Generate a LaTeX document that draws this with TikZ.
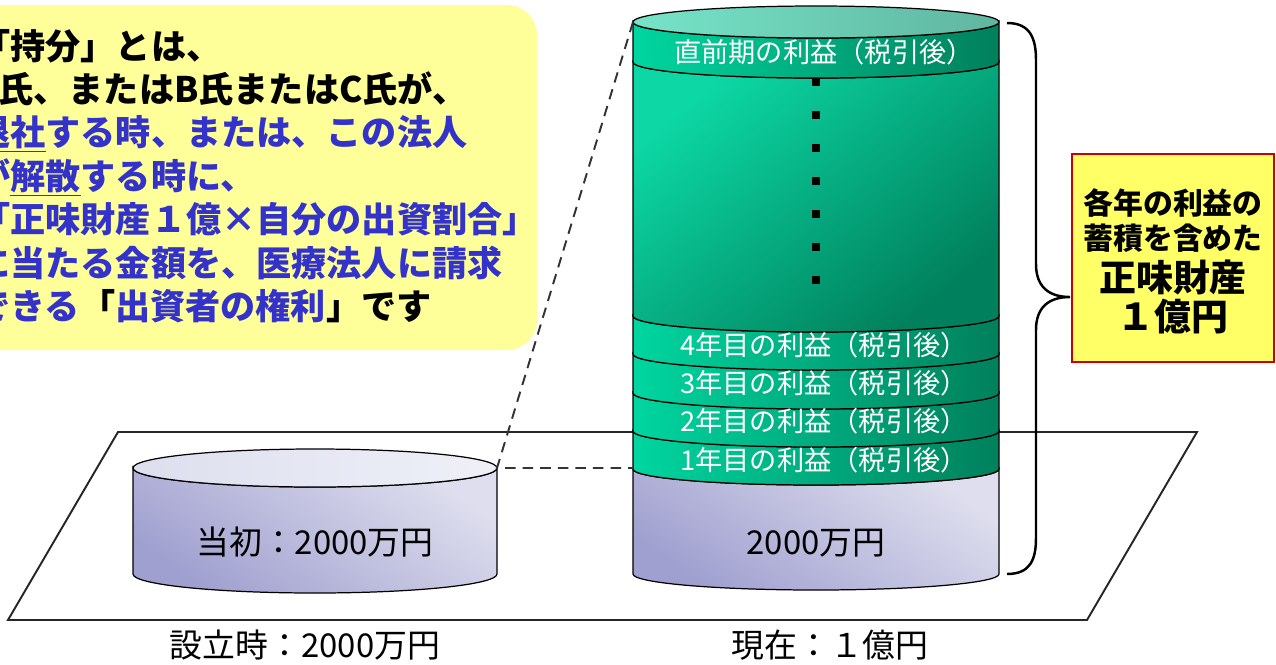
\documentclass[tikz,border=0pt]{standalone}
\usepackage{fontspec}
\setmainfont{Noto Sans CJK JP}
\usetikzlibrary{positioning}
\definecolor{NoteYellow}{RGB}{255,255,153}
\definecolor{NoteBlue}{RGB}{51,51,204}
\definecolor{NetYellow}{RGB}{255,255,102}
\definecolor{NetRed}{RGB}{204,0,0}
\definecolor{ProfitLight}{RGB}{0,214,160}
\definecolor{ProfitMid}{RGB}{0,190,140}
\definecolor{ProfitDark}{RGB}{0,128,92}
\definecolor{LidLight}{RGB}{118,228,200}
\definecolor{LidDark}{RGB}{96,182,160}
\definecolor{CapitalLight}{RGB}{222,222,238}
\definecolor{CapitalDark}{RGB}{160,160,208}
\definecolor{CapitalLid}{RGB}{228,230,242}
\definecolor{GuideGray}{RGB}{51,51,51}

% one visible band of an upright drum: cx, rx, ry, top rim y, bottom rim y, style
\newcommand{\drumband}[6]{%
  \path[#6] (#1-#2,#4) -- (#1-#2,#5)
    arc[start angle=180, end angle=0, x radius=#2, y radius=#3]
    -- (#1+#2,#4)
    arc[start angle=0, end angle=180, x radius=#2, y radius=#3] -- cycle;}

\begin{document}
\begin{tikzpicture}[x=0.02cm, y=-0.02cm,
    drum/.style={draw=black, line width=0.7pt},
    band/.style={drum, left color=ProfitLight, middle color=ProfitMid, right color=ProfitDark},
    body/.style={drum, top color=ProfitLight!95!white, bottom color=ProfitDark, shading angle=40},
    lid/.style={drum, left color=LidLight, right color=LidDark},
    capital/.style={drum, top color=CapitalLight, bottom color=CapitalDark, shading angle=-35},
    caplid/.style={drum, left color=CapitalLid!90!CapitalDark, right color=CapitalLid!60!white},
    floor/.style={draw=black!85, line width=1.1pt},
    guide/.style={draw=GuideGray, line width=1.1pt, dash pattern=on 6pt off 4pt},
    bracket/.style={draw=black, line width=1.4pt},
    notetext/.style={font=\fontsize{20}{24.7}\selectfont\bfseries, align=left, inner sep=0pt},
    netbox/.style={draw=NetRed, line width=1.1pt, fill=NetYellow, minimum width=4.04cm,
                   minimum height=4.16cm, align=center, inner sep=0pt, font=\fontsize{17}{20}\selectfont\bfseries},
    bandlbl/.style={text=white, font=\fontsize{15.5}{18}\selectfont, inner sep=0pt},
    lbl/.style={font=\fontsize{18.7}{22}\selectfont, inner sep=0pt}
]
    \useasboundingbox (0,0) rectangle (1276,664);
    \clip (0,0) rectangle (1276,664);

    % ground plane
    \draw[floor] (118,432) -- (1197,432) -- (1087,620) -- (8,620) -- cycle;

    % drum at founding
    \drumband{315}{182}{19}{468}{574}{capital}
    \path[caplid] (315,468) ellipse[x radius=182, y radius=19];
    \node[lbl] (initlbl) at (315,542) {当初：2000万円};

    % drum today
    \drumband{816}{183}{16}{469}{574}{capital}
    \drumband{816}{183}{16}{431}{469}{band}
    \drumband{816}{183}{16}{393}{431}{band}
    \drumband{816}{183}{16}{354}{393}{band}
    \drumband{816}{183}{16}{316}{354}{band}
    \drumband{816}{183}{16}{62}{316}{body}
    \drumband{816}{183}{16}{22}{62}{band}
    \path[lid] (816,22) ellipse[x radius=183, y radius=16];

    \node[bandlbl] (last) at (824,52) {直前期の利益（税引後）};
    \node[bandlbl] (y4) at (824,345) {4年目の利益（税引後）};
    \node[bandlbl] (y3) at (824,383) {3年目の利益（税引後）};
    \node[bandlbl] (y2) at (824,421) {2年目の利益（税引後）};
    \node[bandlbl] (y1) at (824,460) {1年目の利益（税引後）};
    \node[lbl] (cashlbl) at (816,543) {2000万円};
    \foreach \dy in {82,115,...,280}
        \fill (812,\dy-4) rectangle ++(8,8);

    % growth guides
    \coordinate (initrim) at (497,468);
    \coordinate (nowrim) at (633,22);
    \coordinate (nowside) at (633,468);
    \draw[guide] (nowrim) -- (initrim) -- (nowside);

    % explanation
    \fill[NoteYellow, rounded corners=17pt] (-60,5) rectangle (537,350);
    \node[notetext, anchor=west] (note) at (-25,176) {「持分」とは、\\
        A氏、またはB氏またはC氏が、\\
        \textcolor{NoteBlue}{\underline{退社}する時、または、この法人}\\
        \textcolor{NoteBlue}{が\underline{解散}する時に、}\\
        \textcolor{NoteBlue}{「正味財産１億×自分の出資割合」}\\
        \textcolor{NoteBlue}{に当たる金額を、医療法人に請求}\\
        \textcolor{NoteBlue}{できる}「\textcolor{NoteBlue}{出資者の権利}」です};

    % total net assets
    \draw[bracket] (1007,23) .. controls (1030,23) and (1036,38) .. (1036,60) -- (1036,264)
        .. controls (1036,286) and (1048,297) .. (1070,297)
        .. controls (1048,297) and (1036,308) .. (1036,330) -- (1036,538)
        .. controls (1036,560) and (1030,574) .. (1007,574);
    \node[netbox] (net) at (1173,258) {\\[-2pt]各年の利益の\\蓄積を含めた\\[4pt]
        {\fontsize{21}{24}\selectfont 正味財産}\\[2pt]{\fontsize{21}{24}\selectfont １億円}};

    \node[lbl] (foundlbl) at (305,645) {設立時：2000万円};
    \node[lbl] (nowlbl) at (830,645) {現在：１億円};
\end{tikzpicture}
\end{document}
